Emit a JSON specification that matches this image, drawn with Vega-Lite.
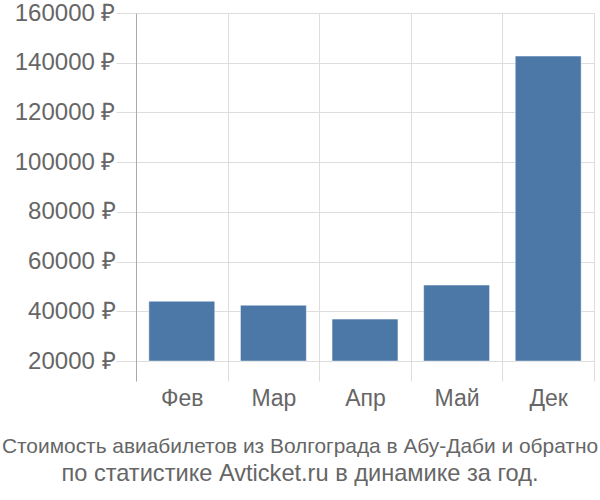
{
  "$schema": "https://vega.github.io/schema/vega-lite/v6.json",
  "width": 458,
  "height": 368,
  "autosize": "none",
  "padding": {"left": 136, "top": 13, "right": 6, "bottom": 119},
  "background": "white",
  "config": {"view": {"stroke": null}, "font": "Liberation Sans"},
  "data": {
    "values": [
      {"month": "Фев", "price": 44100},
      {"month": "Мар", "price": 42500},
      {"month": "Апр", "price": 36900},
      {"month": "Май", "price": 50600},
      {"month": "Дек", "price": 142700}
    ]
  },
  "title": {
    "text": "Стоимость авиабилетов из Волгограда в Абу-Даби и обратно",
    "subtitle": "по статистике Avticket.ru в динамике за год.",
    "orient": "bottom",
    "anchor": "middle",
    "dx": -65,
    "font": "Liberation Sans",
    "fontSize": 20.9,
    "fontWeight": "normal",
    "color": "#666666",
    "subtitleFont": "Liberation Sans",
    "subtitleFontSize": 23.6,
    "subtitleColor": "#666666",
    "subtitlePadding": 5,
    "offset": 26
  },
  "mark": {"type": "bar", "color": "#4c78a8", "stroke": "white", "strokeOpacity": 0.5, "strokeWidth": 1, "width": {"band": 0.72}},
  "encoding": {
    "x": {
      "field": "month",
      "type": "nominal",
      "sort": null,
      "scale": {"paddingInner": 0, "paddingOuter": 0},
      "axis": {
        "title": null,
        "labelAngle": 0,
        "domain": false,
        "ticks": false,
        "grid": true,
        "tickBand": "extent",
        "gridColor": "#dddddd",
        "labelFontSize": 23,
        "labelColor": "#666666",
        "labelPadding": 6
      }
    },
    "y": {
      "field": "price",
      "type": "quantitative",
      "scale": {"domain": [12000, 160000], "nice": false, "zero": false},
      "axis": {
        "title": null,
        "values": [20000, 40000, 60000, 80000, 100000, 120000, 140000, 160000],
        "labelExpr": "datum.value + ' ₽'",
        "gridColor": "#dddddd",
        "tickColor": "#dddddd",
        "tickSize": 20,
        "labelPadding": 1,
        "domainColor": "#aaaaaa",
        "labelFontSize": 24,
        "labelColor": "#666666"
      }
    },
    "y2": {"datum": 20000}
  }
}
